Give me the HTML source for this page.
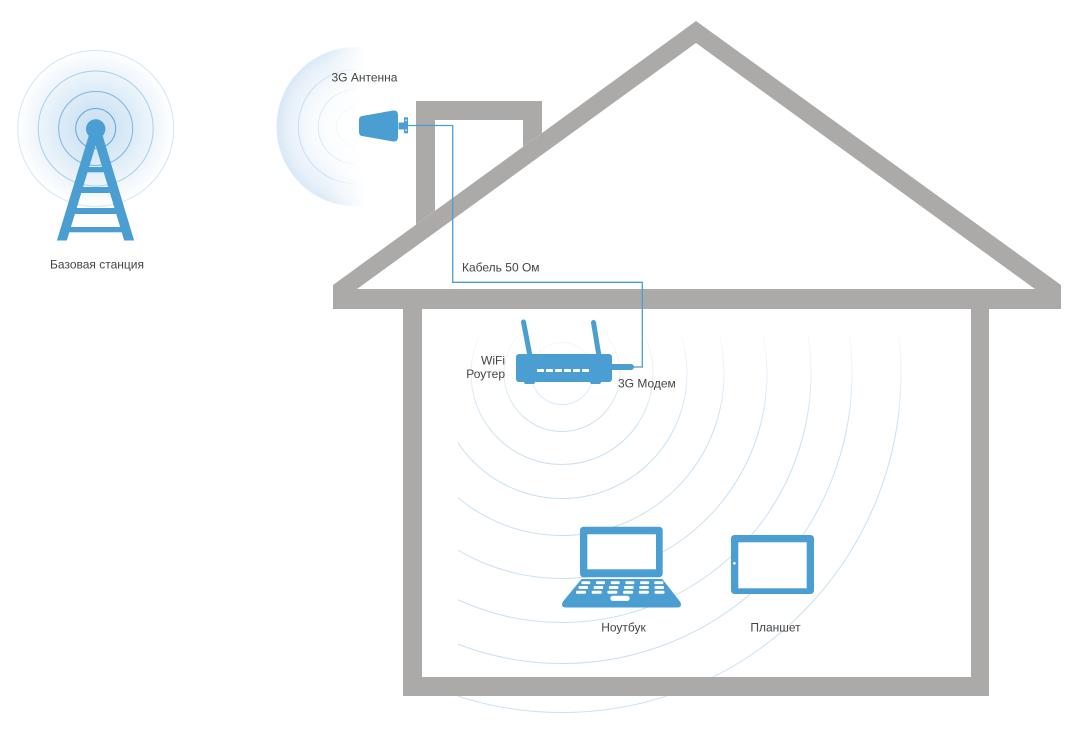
<!DOCTYPE html>
<html>
<head>
<meta charset="utf-8">
<style>
  html,body{margin:0;padding:0;background:#fff;}
  svg{display:block;}
  text{font-family:"Liberation Sans","Noto Sans CJK SC",sans-serif;font-size:12px;fill:#444;}
</style>
</head>
<body>
<svg width="1081" height="732" viewBox="0 0 1081 732" xmlns="http://www.w3.org/2000/svg">
  <defs>
    <radialGradient id="bsGlow" cx="95.7" cy="128.5" r="78" gradientUnits="userSpaceOnUse">
      <stop offset="0" stop-color="#c6def1"/>
      <stop offset="0.45" stop-color="#dcebf6"/>
      <stop offset="0.8" stop-color="#f1f7fc"/>
      <stop offset="1" stop-color="#ffffff"/>
    </radialGradient>
    <radialGradient id="antGlow" cx="355.3" cy="126.7" r="79.3" gradientUnits="userSpaceOnUse">
      <stop offset="0" stop-color="#ffffff"/>
      <stop offset="0.55" stop-color="#f6fafd"/>
      <stop offset="0.85" stop-color="#e6f0f9"/>
      <stop offset="1" stop-color="#d6e7f5"/>
    </radialGradient>
    <linearGradient id="antFade" x1="276" y1="0" x2="366" y2="0" gradientUnits="userSpaceOnUse">
      <stop offset="0" stop-color="#fff" stop-opacity="1"/>
      <stop offset="0.55" stop-color="#fff" stop-opacity="0.85"/>
      <stop offset="1" stop-color="#fff" stop-opacity="0"/>
    </linearGradient>
    <mask id="antMask" maskUnits="userSpaceOnUse" x="0" y="0" width="1081" height="732">
      <rect x="270" y="40" width="100" height="180" fill="url(#antFade)"/>
    </mask>
    <linearGradient id="wifiFade" x1="0" y1="335" x2="0" y2="430" gradientUnits="userSpaceOnUse">
      <stop offset="0" stop-color="#fff" stop-opacity="0.15"/>
      <stop offset="1" stop-color="#fff" stop-opacity="1"/>
    </linearGradient>
    <mask id="wifiMask" maskUnits="userSpaceOnUse" x="0" y="0" width="1081" height="732">
      <rect x="458" y="335" width="623" height="397" fill="url(#wifiFade)"/>
    </mask>
    <clipPath id="towerClip"><rect x="0" y="0" width="300" height="240.5"/></clipPath>
  </defs>

  <!-- Base station -->
  <circle cx="95.7" cy="128.5" r="78" fill="url(#bsGlow)"/>
  <circle cx="95.7" cy="128.5" r="78" fill="none" stroke="#d2e5f3" stroke-width="1"/>
  <circle cx="95.7" cy="128.5" r="57.5" fill="none" stroke="#a9cfea" stroke-width="1"/>
  <circle cx="95.7" cy="128.5" r="37" fill="none" stroke="#7cb7e0" stroke-width="1"/>
  <circle cx="95.7" cy="128.5" r="20" fill="none" stroke="#5ba6d8" stroke-width="1"/>
  <g clip-path="url(#towerClip)" fill="#4b9ed2" stroke="#4b9ed2">
    <line x1="95.7" y1="129" x2="59" y2="250" stroke-width="9.5"/>
    <line x1="95.7" y1="129" x2="132" y2="250" stroke-width="9.5"/>
    <rect x="82" y="167" width="27" height="5.3" stroke="none"/>
    <rect x="76" y="187" width="40" height="6" stroke="none"/>
    <rect x="70" y="208" width="52" height="6" stroke="none"/>
    <rect x="64" y="227" width="64" height="5.3" stroke="none"/>
  </g>
  <circle cx="95.7" cy="129" r="9.7" fill="#4b9ed2"/>
  <text x="97" y="268.5" text-anchor="middle">Базовая станция</text>

  <!-- 3G antenna waves -->
  <g mask="url(#antMask)">
    <path d="M 366 48 A 79.3 79.3 0 1 0 366 205.4 Z" fill="url(#antGlow)"/>
    <path d="M 366 48 A 79.3 79.3 0 1 0 366 205.4" fill="none" stroke="#d9e9f5" stroke-width="1"/>
    <path d="M 355.3 69.7 A 57 57 0 0 0 355.3 183.7" fill="none" stroke="#c3dcef" stroke-width="1"/>
    <path d="M 355.3 89.7 A 37 37 0 0 0 355.3 163.7" fill="none" stroke="#d6e7f4" stroke-width="1"/>
    <path d="M 355.3 108.1 A 18.6 18.6 0 0 0 355.3 145.3" fill="none" stroke="#e6f0f8" stroke-width="1"/>
  </g>
  <text x="331.5" y="81.7">3G Антенна</text>

  <!-- Antenna body -->
  <path d="M 362 116 L 393 110.5 Q 398 110 398 115 L 398 137 Q 398 142 393 141.5 L 362 136 Q 359 135.5 359 132 L 359 120 Q 359 116.5 362 116 Z" fill="#4b9ed2"/>
  <rect x="398.5" y="122.5" width="6" height="7" fill="#4b9ed2"/>
  <rect x="404" y="117.3" width="4" height="16" fill="#4b9ed2"/>
  <rect x="405.3" y="119.5" width="1.4" height="1.6" fill="#fff"/>
  <rect x="405.3" y="129.5" width="1.4" height="1.6" fill="#fff"/>

  <!-- WiFi router waves -->
  <g mask="url(#wifiMask)" fill="none" stroke="#c9e0f2" stroke-width="1">
    <circle cx="562" cy="373.5" r="31"/>
    <circle cx="562" cy="373.5" r="58"/>
    <circle cx="562" cy="373.5" r="91"/>
    <circle cx="562" cy="373.5" r="125"/>
    <circle cx="562" cy="373.5" r="162"/>
    <circle cx="562" cy="373.5" r="205"/>
    <circle cx="562" cy="373.5" r="249"/>
    <circle cx="562" cy="373.5" r="290"/>
    <circle cx="562" cy="373.5" r="339"/>
  </g>

  <!-- House -->
  <g fill="#abaaa9">
    <polygon points="416,101 542,101 542,133 523,146.8 523,120 435,120 435,210.8 416,224.6"/>
    <path fill-rule="evenodd" d="M 333 309 L 333 285 L 696 21 L 1061 285 L 1061 309 Z M 357 289 L 1035 289 L 696 43 Z"/>
    <rect x="403" y="308" width="19" height="388"/>
    <rect x="971" y="308" width="18" height="388"/>
    <rect x="403" y="677" width="586" height="19"/>
  </g>

  <!-- Cable -->
  <polyline points="406,125.5 452.7,125.5 452.7,282.3 642.3,282.3 642.3,367 630,367" fill="none" stroke="#4b9ed2" stroke-width="1.3"/>
  <text x="462" y="271.7">Кабель 50 Ом</text>

  <!-- Router -->
  <g fill="#4b9ed2">
    <line x1="523.5" y1="322" x2="530" y2="356" stroke="#4b9ed2" stroke-width="5" stroke-linecap="round"/>
    <line x1="593.5" y1="322.5" x2="599" y2="356" stroke="#4b9ed2" stroke-width="5" stroke-linecap="round"/>
    <rect x="516" y="354" width="96" height="28" rx="3"/>
    <rect x="524" y="378" width="11" height="6" rx="2"/>
    <rect x="590" y="378" width="11" height="6" rx="2"/>
    <rect x="608" y="364" width="26" height="6" rx="3"/>
  </g>
  <g fill="#fff">
    <rect x="537" y="369" width="7" height="3" rx="0.8"/>
    <rect x="546" y="369" width="7" height="3" rx="0.8"/>
    <rect x="555" y="369" width="7" height="3" rx="0.8"/>
    <rect x="564" y="369" width="7" height="3" rx="0.8"/>
    <rect x="573" y="369" width="7" height="3" rx="0.8"/>
    <rect x="582" y="369" width="7" height="3" rx="0.8"/>
  </g>
  <text x="505" y="364.3" text-anchor="end">WiFi</text>
  <text x="505" y="378" text-anchor="end">Роутер</text>
  <text x="618" y="387.5">3G Модем</text>

  <!-- Laptop -->
  <rect x="580" y="526.7" width="82.7" height="50.6" rx="3.5" fill="#4b9ed2"/>
  <rect x="587.3" y="534.3" width="68.7" height="35" fill="#fff"/>
  <path d="M 581.5 579 L 662.3 579 L 680 601.5 Q 683 607.5 677 607.5 L 566 607.5 Q 560 607.5 563 601.5 Z" fill="#4b9ed2"/>
  <g fill="#fff">
    <rect x="581.3" y="581.3" width="9" height="2.8" rx="1"/>
    <rect x="596" y="581.3" width="9" height="2.8" rx="1"/>
    <rect x="610.7" y="581.3" width="9" height="2.8" rx="1"/>
    <rect x="625.4" y="581.3" width="9" height="2.8" rx="1"/>
    <rect x="640.1" y="581.3" width="9" height="2.8" rx="1"/>
    <rect x="654.3" y="581.3" width="9" height="2.8" rx="1"/>

    <rect x="578.5" y="586" width="9.5" height="3" rx="1"/>
    <rect x="593.7" y="586" width="9.5" height="3" rx="1"/>
    <rect x="608.9" y="586" width="9.5" height="3" rx="1"/>
    <rect x="624.1" y="586" width="9.5" height="3" rx="1"/>
    <rect x="639.3" y="586" width="9.5" height="3" rx="1"/>
    <rect x="654.5" y="586" width="9.5" height="3" rx="1"/>

    <rect x="576" y="590.7" width="10" height="3" rx="1"/>
    <rect x="591.7" y="590.7" width="10" height="3" rx="1"/>
    <rect x="607.4" y="590.7" width="10" height="3" rx="1"/>
    <rect x="623.1" y="590.7" width="10" height="3" rx="1"/>
    <rect x="638.8" y="590.7" width="10" height="3" rx="1"/>
    <rect x="654.5" y="590.7" width="10" height="3" rx="1"/>

    <rect x="610.3" y="595.7" width="19.4" height="5.2" rx="2.6"/>
  </g>
  <text x="623.5" y="631.7" text-anchor="middle">Ноутбук</text>

  <!-- Tablet -->
  <rect x="731" y="535" width="83" height="59" rx="3.5" fill="#4b9ed2"/>
  <rect x="738.3" y="542.3" width="68.4" height="46" fill="#fff"/>
  <circle cx="734.4" cy="563.3" r="1.3" fill="#fff"/>
  <text x="775.5" y="631.7" text-anchor="middle">Планшет</text>
</svg>
</body>
</html>
